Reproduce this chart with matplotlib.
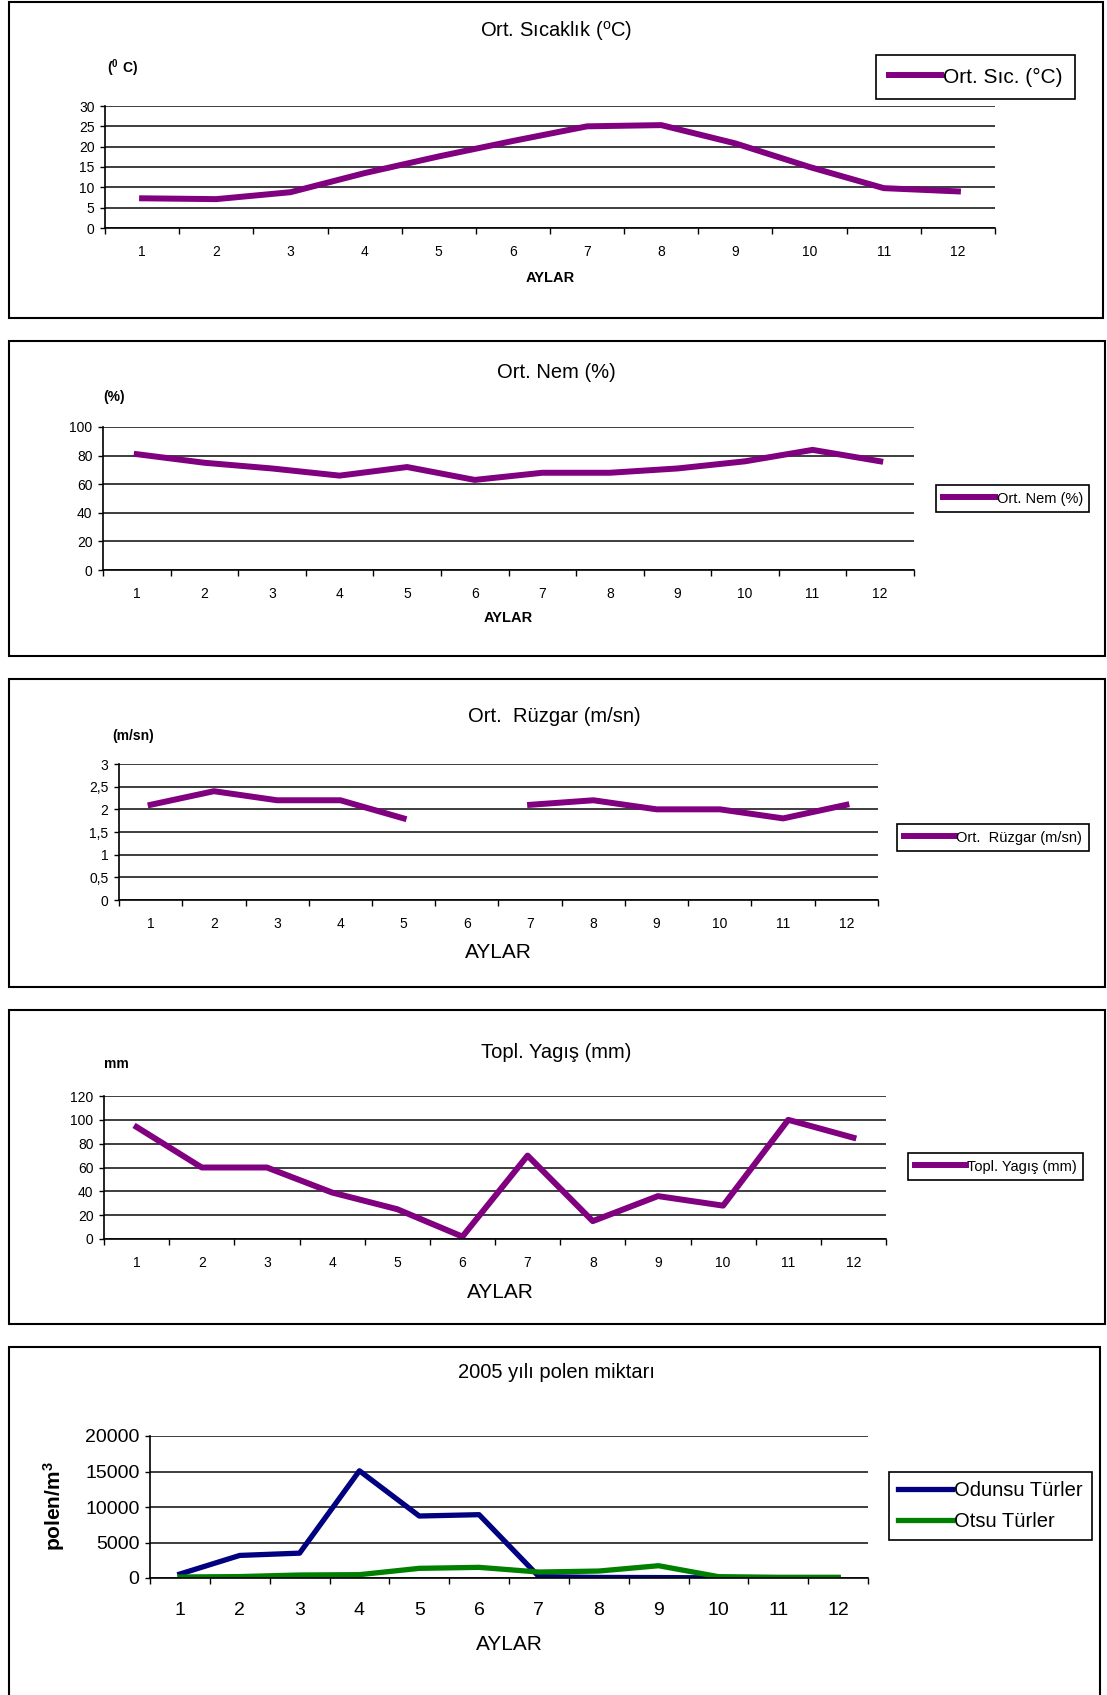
import numpy as np
import matplotlib
matplotlib.use('Agg')
import matplotlib.pyplot as plt
from matplotlib.patches import Rectangle

plt.rcParams['font.family'] = ['Liberation Sans', 'DejaVu Sans']
plt.rcParams['mathtext.fontset'] = 'custom'
plt.rcParams['mathtext.rm'] = 'Liberation Sans'
plt.rcParams['mathtext.bf'] = 'Liberation Sans:bold'
plt.rcParams['mathtext.default'] = 'regular'

W, H = 1107, 1695

# %% veriler
aylar = list(range(1, 13))
sicaklik = [7.3, 7.1, 8.8, 13.5, 17.6, 21.4, 25.0, 25.3, 20.8, 15.0, 9.8, 9.0]
nem = [81, 75, 71, 66, 72, 63, 68, 68, 71, 76, 84, 76]
ruzgar = [2.1, 2.4, 2.2, 2.2, 1.8, np.nan, 2.1, 2.2, 2.0, 2.0, 1.8, 2.1]
yagis = [94, 60, 60, 39, 25, 2, 70, 15, 36, 28, 100, 85]
odunsu = [560, 3180, 3500, 15100, 8730, 8920, 200, 80, 60, 20, 10, 10]
otsu = [140, 200, 420, 470, 1360, 1500, 840, 980, 1730, 190, 100, 100]

sic_ticks = [0, 5, 10, 15, 20, 25, 30]
nem_ticks = [0, 20, 40, 60, 80, 100]
ruz_ticks = [0, 0.5, 1, 1.5, 2, 2.5, 3]
ruz_labels = ['0', '0,5', '1', '1,5', '2', '2,5', '3']
yag_ticks = [0, 20, 40, 60, 80, 100, 120]
pol_ticks = [0, 5000, 10000, 15000, 20000]

MOR = '#800080'

fig = plt.figure(figsize=(W / 100, H / 100), dpi=100)


def kutu(x0, y0, x1, y1):
    fig.patches.append(Rectangle((x0 / W, 1 - y1 / H), (x1 - x0) / W, (y1 - y0) / H,
                                 transform=fig.transFigure, fill=False,
                                 edgecolor='black', lw=1.5))


def eksen(x0, y0, x1, y1):
    return fig.add_axes([x0 / W, 1 - y1 / H, (x1 - x0) / W, (y1 - y0) / H])


def yazi(x, y, s, **kw):
    fig.text(x / W, 1 - y / H, s, ha='center', va='center', **kw)


def grafik(ax, yticks, ylabels, fs, pad_x):
    ax.set_xlim(0.5, 12.5)
    ax.set_ylim(yticks[0], yticks[-1])
    ax.set_yticks(yticks)
    ax.set_yticklabels(ylabels, fontsize=fs)
    ax.set_xticks(aylar)
    ax.set_xticklabels([str(a) for a in aylar], fontsize=fs)
    ax.set_xticks(np.arange(0.5, 13, 1), minor=True)
    ax.tick_params(axis='x', which='major', length=0, pad=pad_x)
    ax.tick_params(axis='x', which='minor', length=4.5, width=1, direction='out')
    ax.tick_params(axis='y', length=3.5, width=1, pad=4)
    ax.yaxis.grid(True, color='#2e2e2e', lw=1.3)
    ax.set_axisbelow(True)
    for s in ['top', 'right']:
        ax.spines[s].set_visible(False)
    for s in ['left', 'bottom']:
        ax.spines[s].set_linewidth(1.2)


def lejant(ax, x0, y0, fs, hl, bp, ls=0.5):
    leg = ax.legend(loc='upper left', bbox_to_anchor=(x0 / W, 1 - y0 / H),
                    bbox_transform=fig.transFigure, borderaxespad=0, fontsize=fs,
                    handlelength=hl, handletextpad=0.1, borderpad=bp,
                    labelspacing=ls, fancybox=False, framealpha=1,
                    edgecolor='black')
    leg.get_frame().set_linewidth(1.2)


# %% 1 - sicaklik
kutu(9, 2, 1103, 318)
ax = eksen(105, 106, 995, 228)
ax.plot(aylar, sicaklik, color=MOR, lw=4.3, label='Ort. Sıc. (°C)')
grafik(ax, sic_ticks, [str(t) for t in sic_ticks], 10, 12)
lejant(ax, 876, 55, 15, 2.5, 0.6)
yazi(556, 31, r'Ort. Sıcaklık ($^{o}$C)', fontsize=14.5)
yazi(122, 68, r'$\mathbf{(^{0}\ C)}$', fontsize=10)
yazi(550, 278, 'AYLAR', fontsize=10.5, fontweight='bold')

# %% 2 - nem
kutu(9, 341, 1105, 656)
ax = eksen(103, 427, 914, 570)
ax.plot(aylar, nem, color=MOR, lw=4.3, label='Ort. Nem (%)')
grafik(ax, nem_ticks, [str(t) for t in nem_ticks], 10, 12)
lejant(ax, 936, 485, 10.5, 3.6, 0.45)
yazi(556, 373, 'Ort. Nem (%)', fontsize=14.5)
yazi(114, 397, '(%)', fontsize=10, fontweight='bold')
yazi(508, 618, 'AYLAR', fontsize=10.5, fontweight='bold')

# %% 3 - ruzgar
kutu(9, 679, 1105, 987)
ax = eksen(119, 764, 878, 900)
ax.plot(aylar, ruzgar, color=MOR, lw=4.3, label='Ort.  Rüzgar (m/sn)')
grafik(ax, ruz_ticks, ruz_labels, 10, 12)
lejant(ax, 897, 824, 10.5, 3.5, 0.45)
yazi(554, 716, 'Ort.  Rüzgar (m/sn)', fontsize=14.5)
yazi(133, 736, '(m/sn)', fontsize=10, fontweight='bold')
yazi(498, 953, 'AYLAR', fontsize=15)

# %% 4 - yagis
kutu(9, 1010, 1105, 1324)
ax = eksen(104, 1096, 886, 1239)
ax.plot(aylar, yagis, color=MOR, lw=4.3, label='Topl. Yagış (mm)')
grafik(ax, yag_ticks, [str(t) for t in yag_ticks], 10, 12)
lejant(ax, 908, 1153, 10.5, 3.5, 0.45)
yazi(556, 1052, 'Topl. Yagış (mm)', fontsize=14.5)
yazi(116, 1064, 'mm', fontsize=10, fontweight='bold')
yazi(500, 1292, 'AYLAR', fontsize=15)

# %% 5 - polen
kutu(9, 1347, 1100, H + 10)
ax = eksen(150, 1436, 868, 1578)
ax.plot(aylar, odunsu, color='#000080', lw=3.8, label='Odunsu Türler')
ax.plot(aylar, otsu, color='#008000', lw=3.8, label='Otsu Türler')
grafik(ax, pol_ticks, [str(t) for t in pol_ticks], 14, 17)
lejant(ax, 889, 1472, 14.5, 2.7, 0.45, ls=0.6)
yazi(556, 1372, '2005 yılı polen miktarı', fontsize=14.5)
yazi(54, 1506, 'polen/m$^{3}$', fontsize=15, fontweight='bold', rotation=90)
yazi(509, 1645, 'AYLAR', fontsize=15)

fig.savefig('out.png', dpi=100)
